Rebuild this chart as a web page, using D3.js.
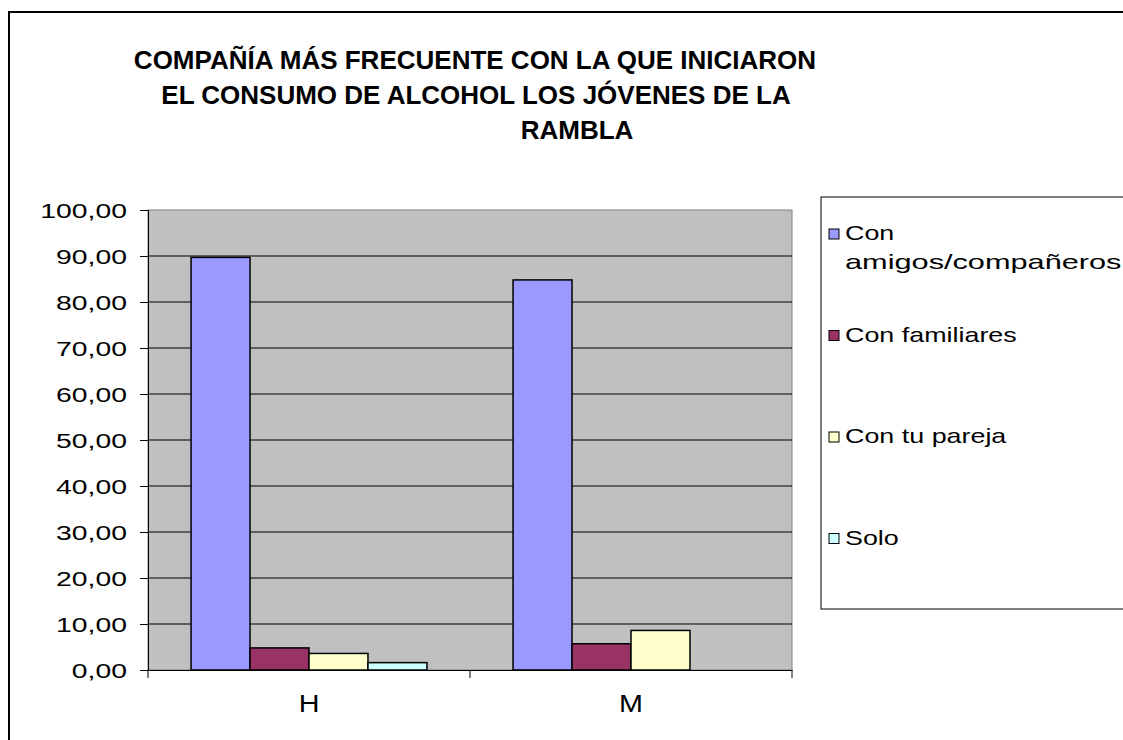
<!DOCTYPE html>
<html>
<head>
<meta charset="utf-8">
<script src="https://cdn.jsdelivr.net/npm/d3@7"></script>
<style>
  body { margin: 0; background: #fff; }
  text { font-family: Arial, "Liberation Sans", sans-serif; fill: #000; }
</style>
</head>
<body>
<script>
// chart data
var categories = ["H", "M"];
var seriesNames = ["Con amigos/compañeros", "Con familiares", "Con tu pareja", "Solo"];
var seriesColors = ["#9999FF", "#993366", "#FFFFCC", "#CCFFFF"];
var amigos = [89.7, 84.8];
var familiares = [4.8, 5.7];
var pareja = [3.6, 8.6];
var solo = [1.6, 0];
var yTicks = [0, 10, 20, 30, 40, 50, 60, 70, 80, 90, 100];
var titleLines = ["COMPAÑÍA MÁS FRECUENTE CON LA QUE INICIARON", "EL CONSUMO DE ALCOHOL LOS JÓVENES DE LA", "RAMBLA"];

var seriesValues = [amigos, familiares, pareja, solo];

var width = 1123, height = 740;

var svg = d3.select("body")
    .append("svg")
    .attr("width", width)
    .attr("height", height);

// outer frame (runs off the right and bottom edge)
svg.append("rect")
    .attr("x", 9).attr("y", 12)
    .attr("width", 1130).attr("height", 740)
    .attr("fill", "none")
    .attr("stroke", "#000")
    .attr("stroke-width", 2);

// title
var titleX = [475, 476, 577];
svg.selectAll(".title")
    .data(titleLines)
    .enter()
    .append("text")
    .attr("class", "title")
    .attr("x", function(d, i) { return titleX[i]; })
    .attr("y", function(d, i) { return 69 + i * 35; })
    .attr("text-anchor", "middle")
    .style("font-weight", "bold")
    .style("font-size", "26px")
    .text(function(d) { return d; });

// plot area
var plot = { left: 148, right: 792, top: 210, bottom: 670 };

var y = d3.scaleLinear()
    .domain([0, 100])
    .range([plot.bottom, plot.top]);

var x0 = d3.scaleBand()
    .domain(categories)
    .range([plot.left, plot.right]);

var x1 = d3.scaleBand()
    .domain(d3.range(seriesNames.length))
    .range([0, x0.bandwidth()])
    .paddingOuter(0.73);

svg.append("rect")
    .attr("x", plot.left).attr("y", plot.top)
    .attr("width", plot.right - plot.left)
    .attr("height", plot.bottom - plot.top)
    .attr("fill", "#C0C0C0")
    .attr("stroke", "#808080")
    .attr("stroke-width", 1);

// gridlines
svg.selectAll(".grid")
    .data(yTicks.slice(1, -1))
    .enter()
    .append("line")
    .attr("x1", plot.left).attr("x2", plot.right)
    .attr("y1", function(d) { return y(d); })
    .attr("y2", function(d) { return y(d); })
    .attr("stroke", "#000")
    .attr("stroke-width", 1);

// y axis
var yAxis = svg.append("g")
    .attr("transform", "translate(" + plot.left + ",0)")
    .call(d3.axisLeft(y).tickValues(yTicks).tickSize(8).tickPadding(13)
        .tickFormat(function(d) { return d3.format(".2f")(d).replace(".", ","); }));
yAxis.select(".domain").attr("stroke", "#000");
yAxis.selectAll(".tick line").attr("stroke", "#000");
yAxis.selectAll("text")
    .style("font-size", "21px")
    .attr("dy", "0.36em")
    .each(function() {
        var t = d3.select(this), xx = +t.attr("x");
        t.attr("x", xx / 1.35).attr("transform", "scale(1.35,1)");
    });

// bars
var groups = svg.selectAll(".group")
    .data(categories)
    .enter()
    .append("g")
    .attr("transform", function(d) { return "translate(" + x0(d) + ",0)"; });

groups.selectAll("rect")
    .data(function(d, ci) {
        return seriesValues.map(function(vals, si) { return { s: si, v: vals[ci] }; });
    })
    .enter()
    .filter(function(d) { return d.v > 0; })
    .append("rect")
    .attr("x", function(d) { return x1(d.s); })
    .attr("width", x1.bandwidth())
    .attr("y", function(d) { return y(d.v); })
    .attr("height", function(d) { return plot.bottom - y(d.v); })
    .attr("fill", function(d) { return seriesColors[d.s]; })
    .attr("stroke", "#000")
    .attr("stroke-width", 1.5);

// x axis
var xAxis = svg.append("g")
    .attr("transform", "translate(0," + plot.bottom + ")")
    .call(d3.axisBottom(x0).tickSize(0).tickPadding(26));
xAxis.select(".domain").attr("stroke", "#000");
xAxis.selectAll("text").style("font-size", "23px")
    .each(function() {
        var t = d3.select(this), g = d3.select(this.parentNode);
        t.attr("transform", "scale(1.25,1)");
    });
svg.selectAll(".xtick")
    .data([plot.left, plot.left + x0.bandwidth(), plot.right])
    .enter()
    .append("line")
    .attr("x1", function(d) { return d; }).attr("x2", function(d) { return d; })
    .attr("y1", plot.bottom).attr("y2", plot.bottom + 8)
    .attr("stroke", "#000");

// legend
var legend = svg.append("g");
legend.append("rect")
    .attr("x", 821).attr("y", 197)
    .attr("width", 400).attr("height", 412)
    .attr("fill", "#fff")
    .attr("stroke", "#000")
    .attr("stroke-width", 1);

var items = legend.selectAll(".item")
    .data(seriesNames)
    .enter()
    .append("g")
    .attr("transform", function(d, i) { return "translate(829," + (240 + i * 101.5) + ")"; });

items.append("rect")
    .attr("x", 0).attr("y", -11)
    .attr("width", 10).attr("height", 10)
    .attr("fill", function(d, i) { return seriesColors[i]; })
    .attr("stroke", "#000");

items.append("text")
    .attr("transform", "translate(16,0) scale(1.28,1)")
    .style("font-size", "21px")
    .each(function(d) {
        var t = d3.select(this);
        if (d.indexOf("Con amigos") === 0) {
            t.append("tspan").attr("x", 0).attr("y", 0).text("Con");
            t.append("tspan").attr("x", 0).attr("y", 29)
                .attr("textLength", 216).attr("lengthAdjust", "spacingAndGlyphs")
                .text("amigos/compañeros");
        } else {
            t.text(d);
        }
    });
</script>
</body>
</html>
